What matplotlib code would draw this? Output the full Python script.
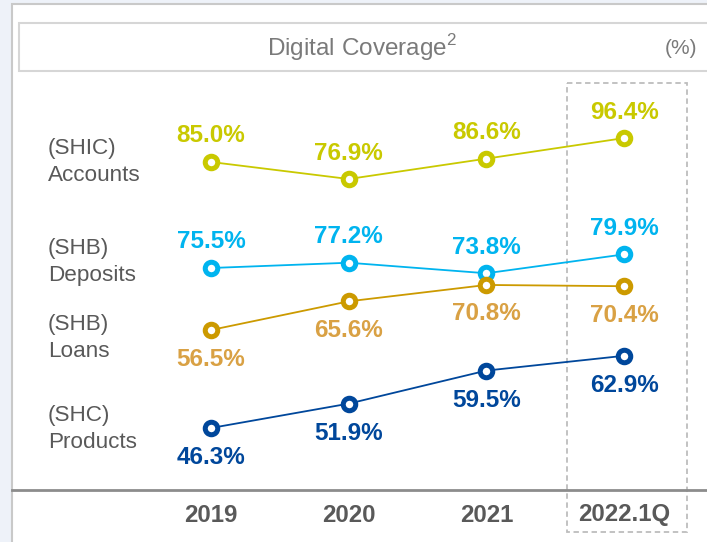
import matplotlib.pyplot as plt
import matplotlib.transforms as mtransforms
from matplotlib.patches import Rectangle

plt.rcParams['font.family'] = ['Liberation Sans', 'DejaVu Sans']
plt.rcParams['mathtext.fontset'] = 'custom'
plt.rcParams['mathtext.rm'] = 'Liberation Sans'

periods = ["2019", "2020", "2021", "2022.1Q"]
series_names = ["(SHIC)\nAccounts", "(SHB)\nDeposits", "(SHB)\nLoans", "(SHC)\nProducts"]
accounts = [85.0, 76.9, 86.6, 96.4]
deposits = [75.5, 77.2, 73.8, 79.9]
loans = [56.5, 65.6, 70.8, 70.4]
products = [46.3, 51.9, 59.5, 62.9]

# each series gets its own band: (anchor value, anchor pixel, pixels per unit)
bands = [(85.0, 162, 2.1), (75.5, 268, 3.1), (56.5, 330, 3.15), (46.3, 428, 4.35)]
line_colors = ["#c9c900", "#00b4ef", "#cc9a00", "#00479b"]
text_colors = ["#c9c900", "#00b4ef", "#d9a144", "#00479b"]
label_offset = [-26, -26, 29, 30]
name_y = [162, 262, 338, 429]

W, H = 707, 542
fig = plt.figure(figsize=(W / 100, H / 100), dpi=100)
fig.patch.set_facecolor("#eef2f9")
ax = fig.add_axes([0, 0, 1, 1])
ax.set_xlim(0, W)
ax.set_ylim(H, 0)
ax.axis("off")

# white panel
ax.add_patch(Rectangle((12, 4), W, H, facecolor="white", edgecolor="#c9c9c9", lw=1.5, zorder=0))
# title box
ax.add_patch(Rectangle((19, 23), W, 48, facecolor="white", edgecolor="#d6d6d6", lw=1.5, zorder=1))
ax.text(362, 48, "Digital Coverage$^2$", ha="center", va="center", fontsize=17.5, color="#7a7a7a")
ax.text(697, 48, "(%)", ha="right", va="center", fontsize=15, color="#7a7a7a")

# highlight box for latest period
ax.add_patch(Rectangle((567, 83), 120, 449, facecolor="none", edgecolor="#bdbdbd",
                       lw=1.3, ls=(0, (3, 2)), zorder=1))

# baseline
ax.plot([12, W], [490, 490], color="#8c8c8c", lw=2, zorder=2)

x0, dx = 211, 137.7
for i, p in enumerate(periods):
    ax.text(x0 + dx * i, 515, p, ha="center", va="center", fontsize=17.3,
            fontweight="bold", color="#595959")

data = [accounts, deposits, loans, products]
for vals, (v_ref, px_ref, k), lc, tc, off, name, ny in zip(
        data, bands, line_colors, text_colors, label_offset, series_names, name_y):
    tr = mtransforms.Affine2D().scale(dx, -k).translate(x0, px_ref + k * v_ref) + ax.transData
    xs = list(range(len(vals)))
    ax.plot(xs, vals, color=lc, lw=1.3, transform=tr, zorder=3)
    ax.plot(xs, vals, "o", ms=9, mew=3.6, mec=lc, mfc="white", transform=tr, zorder=4)
    for xi, v in zip(xs, vals):
        ax.annotate(f"{v:.1f}%", (xi, v), xycoords=tr, xytext=(0, -off),
                    textcoords="offset pixels", ha="center", va="center",
                    fontsize=17.5, fontweight="bold", color=tc, zorder=5)
    ax.text(48, ny, name, ha="left", va="center", fontsize=16.2, color="#595959",
            linespacing=1.35)

fig.savefig("out.png", dpi=100, facecolor=fig.get_facecolor())
